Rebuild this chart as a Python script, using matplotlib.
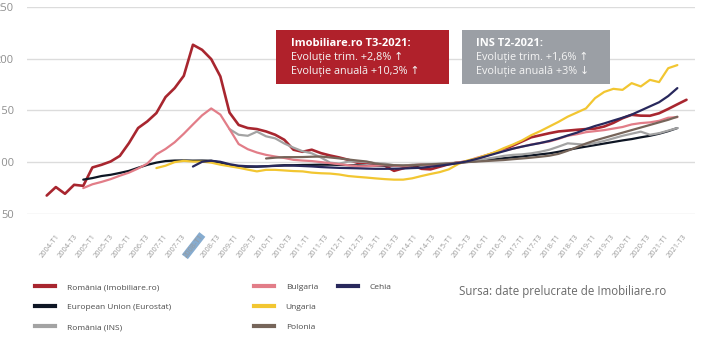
import numpy as np
import matplotlib
matplotlib.use("Agg")
import matplotlib.pyplot as plt
from matplotlib.lines import Line2D
from matplotlib.patches import Rectangle

plt.rcParams['font.family'] = ['Open Sans', 'DejaVu Sans']

nan = np.nan

# quarters 2004-T1 .. 2021-T3 (71 points)
tick_labels = ["2004-T1", "2004-T3", "2005-T1", "2005-T3", "2006-T1", "2006-T3",
               "2007-T1", "2007-T3", "2008-T1", "2008-T3", "2009-T1", "2009-T3",
               "2010-T1", "2010-T3", "2011-T1", "2011-T3", "2012-T1", "2012-T3",
               "2013-T1", "2013-T3", "2014-T1", "2014-T3", "2015-T1", "2015-T3",
               "2016-T1", "2016-T3", "2017-T1", "2017-T3", "2018-T1", "2018-T3",
               "2019-T1", "2019-T3", "2020-T1", "2020-T3", "2021-T1", "2021-T3"]

romania_imob = [67.6, 75.8, 69.3, 78, 77, 94.8, 97.4, 100.6, 106, 118.4,
                133, 139.4, 147.5, 163, 171.7, 183.6, 213.7, 208.8, 199.8, 183,
                148, 136, 133, 132, 129.7, 126.5, 121.6, 112, 110, 112,
                108.7, 106.4, 104.5, 102.2, 99.3, 99.5, 98.5, 96.5, 91.5, 94,
                97, 93.5, 93, 95.5, 98, 99.5, 100.5, 103, 106, 109,
                112, 116, 120, 124, 126, 128, 129.7, 130.5, 131.3, 132,
                132.5, 134.5, 138, 142.5, 145.8, 145, 144.9, 147.3, 151.5, 156,
                160.4]

eu = [nan] * 4 + [83, 84.5, 86.5, 87.7, 89.5, 91.5, 94.5, 97.3, 99.5, 101,
                  101.5, 101.6, 101.4, 101.5, 101.3, 99.5, 97, 95.8, 95.5, 95.5,
                  96, 96.5, 97, 97, 97.2, 97.3, 97.5, 97.5, 97.3, 97,
                  96.8, 96.5, 96.5, 96.5, 96.4, 96.4, 96.7, 97, 97.3, 97.8,
                  98.5, 99.5, 100.3, 101, 101.8, 102.7, 103.7, 104.6, 105.5, 106.5,
                  107.5, 108.5, 110, 111.8, 113.5, 115, 116.5, 118, 119.5, 121,
                  122.3, 124, 125.5, 127.5, 130, 133] + [nan]

romania_ins = [nan] * 20 + [132, 126.5, 125.5, 129.5, 125, 123, 118, 114, 110.5, 108.5,
                            104.5, 99.5, 98.5, 100.5, 100.5, 100, 99, 98.5, 97, 96.5,
                            97.5, 98, 98, 98.5, 99, 99.5, 100, 101.5, 103, 104.5,
                            106, 107, 107.5, 108.5, 110, 112, 115, 118.2, 117.5, 116.8,
                            118.5, 120.5, 123, 125.5, 127.5, 129.5, 126.5, 128, 130.5, 133] + [nan]

bulgaria = [nan] * 4 + [74.8, 78.5, 80.8, 83.5, 86.8, 89.8, 93.8, 98.5, 107.5, 112.7,
                        119.2, 127.5, 136.5, 145.3, 152, 146, 132, 117.5, 112.5, 109.3,
                        107, 105.4, 104, 102.2, 101.5, 101, 100, 99, 98, 97,
                        96, 96, 96.5, 97, 96.5, 96, 97, 97.5, 96.5, 97.5,
                        98.5, 99.5, 101, 104, 106.5, 109, 111, 113, 115, 117,
                        118.5, 120, 122.5, 125.5, 127, 129, 130, 131, 132.5, 134,
                        136.5, 137.8, 138.5, 140, 143, 143.6] + [nan]

ungaria = [nan] * 12 + [94.2, 96.5, 100, 101.2, 100.5, 100.5, 99.5, 97.5, 96, 94.5,
                        92.7, 91, 92.5, 92.5, 91.9, 91.3, 91, 89.8, 89.2, 88.9,
                        88, 86.5, 85.7, 85, 84.2, 83.5, 83, 83, 84.3, 86.5,
                        88.5, 90.3, 93, 98, 101.5, 103.5, 106.5, 109.5, 113.5, 117,
                        121, 126, 130, 134.5, 139, 144, 148, 152, 162, 168,
                        171, 170, 176.5, 173.3, 179.7, 177.5, 191, 194] + [nan]

polonia = [nan] * 24 + [103.5, 104.3, 104.8, 104.8, 104.9, 105.2, 105.4, 104.5, 103.6, 102.5,
                        101.5, 100.6, 98.5, 97.5, 97, 96.7, 97, 97.4, 97.8, 98.2,
                        98.6, 99.2, 100, 100.5, 101, 101.5, 102, 102.8, 103.5, 104.3,
                        105.2, 106.2, 108, 111, 114.5, 118, 121, 123.5, 126, 128.5,
                        131, 133.5, 136, 138.5, 141, 144] + [nan]

cehia = [nan] * 16 + [95.7, 100.3, 101.3, 100.3, 98, 96.5, 96, 95.8, 96, 96.3,
                      96.6, 96.6, 96.2, 95.8, 95.2, 94.8, 94.4, 94.2, 94, 93.7,
                      93.5, 93.5, 93.6, 93.8, 94.2, 94.5, 95.5, 96.5, 97.7, 99,
                      100.8, 103, 105.5, 108, 110.5, 113, 115, 116.8, 118.5, 120.5,
                      123, 125.8, 128.5, 132, 135, 137.5, 140.3, 143, 146, 150,
                      154, 158, 164, 171.7] + [nan]

series = [
    ("România (Imobiliare.ro)", romania_imob, "#a8262f", 1.9),
    ("European Union (Eurostat)", eu, "#0e1624", 1.6),
    ("România (INS)", romania_ins, "#a3a3a3", 1.6),
    ("Bulgaria", bulgaria, "#e27d88", 1.6),
    ("Ungaria", ungaria, "#f2c631", 1.6),
    ("Polonia", polonia, "#76655a", 1.6),
    ("Cehia", cehia, "#28285c", 1.6),
]
draw_order = [4, 2, 5, 3, 1, 6, 0]

W, H = 717, 353
fig = plt.figure(figsize=(W / 100, H / 100), dpi=100)
x0, x1, ytop, ybot = 27, 695, 7.3, 213.7
ax = fig.add_axes([x0 / W, 1 - ybot / H, (x1 - x0) / W, (ybot - ytop) / H])

n = len(romania_imob)
xs = np.arange(n)
for k in draw_order:
    name, vals, col, lw = series[k]
    ax.plot(xs, np.array(vals, dtype=float), color=col, lw=lw, solid_capstyle='round',
            solid_joinstyle='round', zorder=3 + k * 0.01)

ax.set_xlim(-2.155, 70.93)
ax.set_ylim(50, 250)
ax.set_yticks([50, 100, 150, 200, 250])
ax.grid(axis='y', color='#dcdcdc', lw=1.0)
ax.set_axisbelow(True)
for s in ax.spines.values():
    s.set_visible(False)
ax.set_xticks([])
ax.tick_params(axis='y', length=0, pad=9.4, labelsize=8, labelcolor='#8f8f8f')

# tick label axis
ax2 = ax.twiny()
ax2.set_xlim(-1.314, 36.03)
ax2.xaxis.set_ticks_position('bottom')
ax2.set_xticks(range(len(tick_labels)))
ax2.set_xticklabels(tick_labels, rotation=52, ha='center', va='center',
                    rotation_mode='anchor', fontsize=5.4, color='#9a9a9a')
ax2.tick_params(axis='x', length=0, pad=23)
for s in ax2.spines.values():
    s.set_visible(False)
ax2.get_xticklabels()[8].set_bbox(dict(facecolor='#86acd0', edgecolor='none', pad=0.2))

# legend (three columns)
handles = [Line2D([], [], color=c, lw=3) for (_, _, c, _) in series]
labels = [s[0] for s in series]
groups = [([0, 1, 2], 35), ([3, 4, 5], 254), ([6], 338)]
for idx, xpx in groups:
    leg = fig.legend([handles[i] for i in idx], [labels[i] for i in idx],
                     loc='upper left', bbox_to_anchor=(xpx / W, 1 - 283.5 / H),
                     frameon=False, fontsize=6, handlelength=2.4, handletextpad=1.4,
                     labelspacing=1.45, borderpad=0, borderaxespad=0, labelcolor='#4a4a4a')

fig.text(459 / W, 1 - 292 / H, "Sursa: date prelucrate de Imobiliare.ro",
         fontsize=8.3, color='#6a6a6a', va='center', ha='left')

# annotation boxes
fig.add_artist(Rectangle((276 / W, 1 - 84.3 / H), (449 - 276) / W, (84.3 - 30) / H,
                         transform=fig.transFigure, facecolor='#b0212b', edgecolor='none'))
fig.add_artist(Rectangle((462 / W, 1 - 84.3 / H), (610 - 462) / W, (84.3 - 30) / H,
                         transform=fig.transFigure, facecolor='#9b9fa5', edgecolor='none'))

box_texts = [
    (291, ["Imobiliare.ro T3-2021:", "Evoluție trim. +2,8% ↑", "Evoluție anuală +10,3% ↑"]),
    (476, ["INS T2-2021:", "Evoluție trim. +1,6% ↑", "Evoluție anuală +3% ↓"]),
]
for xpx, lines in box_texts:
    fig.text(xpx / W, 1 - 44 / H, lines[0], fontsize=8, fontweight='bold', color='white',
             va='center', ha='left')
    fig.text(xpx / W, 1 - 57.5 / H, lines[1], fontsize=7.8, color='#f4f4f4', va='center', ha='left')
    fig.text(xpx / W, 1 - 71 / H, lines[2], fontsize=7.8, color='#f4f4f4', va='center', ha='left')

fig.savefig("out.png", dpi=100)
